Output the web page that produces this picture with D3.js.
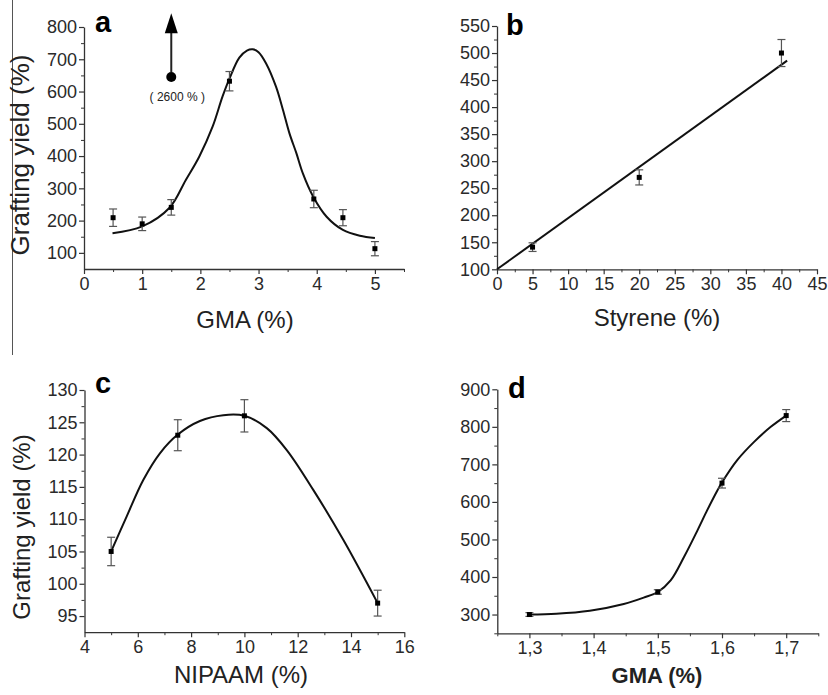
<!DOCTYPE html>
<html><head><meta charset="utf-8">
<script src="https://cdn.jsdelivr.net/npm/d3@7"></script>
<style>
body{margin:0;background:#fff}
text{font-family:Arial,"Liberation Sans",sans-serif}
</style>
</head><body><svg id="chart" width="828" height="695"></svg>
<script>
// ---------- Panel a : GMA (%) ----------
const aX   = [0.5, 1.0, 1.5, 2.5, 3.95, 4.45, 5.0];
const aY   = [209, 190, 241, 632, 267, 209, 113];
const aErr = [27, 21, 24, 30, 27, 25, 22];
const aFitX = [0.49, 1.0, 1.47, 1.75, 1.98, 2.21, 2.38, 2.5, 2.67, 2.8, 2.9, 3.0, 3.13, 3.3, 3.42, 3.53, 3.65, 3.76, 3.94, 4.17, 4.45, 4.74, 5.0];
const aFitY = [161, 182, 240, 326, 398, 491, 584, 640, 705, 727, 731, 722, 687, 615, 543, 471, 409, 347, 274, 212, 171, 153, 146];
const aOutlierX = [1.5];
const aOutlierY = [645];
const aArrowTopY = [843];
const aOutlierLabel = ["( 2600 % )"];
const aXTicks = [0, 1, 2, 3, 4, 5];
const aYTicks = [100, 200, 300, 400, 500, 600, 700, 800];

// ---------- Panel b : Styrene (%) ----------
const bX   = [5, 20, 40];
const bY   = [141, 270, 500];
const bErr = [8, 14, 25];
const bFitX = [0, 40.8];
const bFitY = [100, 486];
const bXTicks = [0, 5, 10, 15, 20, 25, 30, 35, 40, 45];
const bYTicks = [100, 150, 200, 250, 300, 350, 400, 450, 500, 550];

// ---------- Panel c : NIPAAM (%) ----------
const cX   = [5, 7.5, 10, 15];
const cY   = [105, 123, 126, 97];
const cErr = [2.2, 2.4, 2.5, 2.0];
const cFitX = [5, 5.58, 6.21, 6.83, 7.5, 8.33, 9.21, 10, 10.84, 11.59, 12.59, 13.71, 15];
const cFitY = [105, 110.4, 116.1, 120.2, 123.1, 125.2, 126.1, 126, 124.1, 120.7, 114.5, 106.8, 97];
const cXTicks = [4, 6, 8, 10, 12, 14, 16];
const cYTicks = [95, 100, 105, 110, 115, 120, 125, 130];

// ---------- Panel d : GMA (%) ----------
const dX   = [1.3, 1.5, 1.6, 1.7];
const dY   = [300, 360, 650, 830];
const dErr = [5, 6, 13, 16];
const dFitX = [1.3, 1.342, 1.394, 1.447, 1.478, 1.5, 1.52, 1.541, 1.562, 1.577, 1.593, 1.6, 1.624, 1.65, 1.676, 1.7];
const dFitY = [300, 302, 310, 328, 345, 360, 391, 454, 525, 578, 631, 652, 712, 760, 800, 830];
const dXTicks = [1.3, 1.4, 1.5, 1.6, 1.7];
const dYTicks = [300, 400, 500, 600, 700, 800, 900];

const svg = d3.select("#chart");

// decorative separator line at the left
svg.append("line").attr("x1", 12.5).attr("x2", 12.5).attr("y1", 0).attr("y2", 355)
  .attr("stroke", "#555").attr("stroke-width", 1);

function midpoints(arr) {
  const out = [];
  for (let i = 0; i < arr.length - 1; i++) out.push((arr[i] + arr[i + 1]) / 2);
  return out;
}

function panel(cfg) {
  const g = svg.append("g");
  const x = d3.scaleLinear().domain(cfg.xDomain).range(cfg.xRange);
  const y = d3.scaleLinear().domain(cfg.yDomain).range(cfg.yRange);
  const x0 = cfg.xRange[0], y0 = cfg.yRange[0];

  // minor ticks
  const xMinor = midpoints(cfg.xTicks).concat(cfg.xExtraMinor || []);
  const yMinor = midpoints(cfg.yTicks).concat(cfg.yExtraMinor || []);
  g.append("g").attr("transform", `translate(0,${y0})`)
    .call(d3.axisBottom(x).tickValues(xMinor).tickSize(3).tickSizeOuter(0).tickFormat(""))
    .call(s => s.select(".domain").remove())
    .selectAll("line").attr("stroke", "#333").attr("stroke-width", 1);
  g.append("g").attr("transform", `translate(${x0},0)`)
    .call(d3.axisLeft(y).tickValues(yMinor).tickSize(3).tickSizeOuter(0).tickFormat(""))
    .call(s => s.select(".domain").remove())
    .selectAll("line").attr("stroke", "#333").attr("stroke-width", 1);

  // major axes
  const xa = g.append("g").attr("transform", `translate(0,${y0})`)
    .call(d3.axisBottom(x).tickValues(cfg.xTicks).tickSize(5).tickSizeOuter(0).tickPadding(3)
      .tickFormat(cfg.xFmt || d3.format("d")));
  const ya = g.append("g").attr("transform", `translate(${x0},0)`)
    .call(d3.axisLeft(y).tickValues(cfg.yTicks).tickSize(5).tickSizeOuter(0).tickPadding(2)
      .tickFormat(d3.format("d")));
  [xa, ya].forEach(a => {
    a.select(".domain").attr("stroke", "#333").attr("stroke-width", 1.3);
    a.selectAll(".tick line").attr("stroke", "#333").attr("stroke-width", 1.2);
    a.selectAll(".tick text").attr("fill", "#2a2a2a").style("font-size", "18px")
      .style("font-family", "Arial, 'Liberation Sans', sans-serif");
  });

  // fitted curve
  const line = d3.line().x(d => x(d[0])).y(d => y(d[1])).curve(cfg.curve || d3.curveCatmullRom.alpha(0.5));
  g.append("path").datum(d3.zip(cfg.fitX, cfg.fitY)).attr("d", line)
    .attr("fill", "none").attr("stroke", "#111").attr("stroke-width", 2);

  // error bars
  const pts = cfg.px.map((v, i) => ({ x: v, y: cfg.py[i], e: cfg.pe[i] }));
  const eb = g.append("g").attr("stroke", "#555").attr("stroke-width", 1.2);
  pts.forEach(p => {
    const cx = x(p.x);
    eb.append("line").attr("x1", cx).attr("x2", cx).attr("y1", y(p.y - p.e)).attr("y2", y(p.y + p.e));
    eb.append("line").attr("x1", cx - 4).attr("x2", cx + 4).attr("y1", y(p.y - p.e)).attr("y2", y(p.y - p.e));
    eb.append("line").attr("x1", cx - 4).attr("x2", cx + 4).attr("y1", y(p.y + p.e)).attr("y2", y(p.y + p.e));
  });
  g.selectAll("rect.pt").data(pts).join("rect").attr("class", "pt")
    .attr("x", d => x(d.x) - 2.5).attr("y", d => y(d.y) - 2.5)
    .attr("width", 5).attr("height", 5).attr("fill", "#000");

  // panel letter
  g.append("text").attr("x", cfg.letterPos[0]).attr("y", cfg.letterPos[1])
    .text(cfg.letter).style("font-size", "29px").style("font-weight", "bold").attr("fill", "#000");

  // x label
  g.append("text").attr("x", cfg.xLabelPos[0]).attr("y", cfg.xLabelPos[1])
    .attr("text-anchor", "middle").text(cfg.xLabel)
    .style("font-size", cfg.xLabelSize || "24px").style("font-weight", cfg.xLabelWeight || "normal")
    .attr("fill", "#222");

  // y label
  if (cfg.yLabel) {
    g.append("text").attr("transform", `translate(${cfg.yLabelPos[0]},${cfg.yLabelPos[1]}) rotate(-90)`)
      .attr("text-anchor", "middle").text(cfg.yLabel)
      .style("font-size", cfg.yLabelSize || "24px").attr("fill", "#222");
  }
  return { g, x, y };
}

// Panel a
const pa = panel({
  xDomain: [0, 5.5], xRange: [84, 404], yDomain: [50, 800], yRange: [269, 27],
  xTicks: aXTicks, yTicks: aYTicks, xExtraMinor: [5.5], yExtraMinor: [],
  fitX: aFitX, fitY: aFitY, px: aX, py: aY, pe: aErr,
  letter: "a", letterPos: [95, 32], xLabel: "GMA (%)", xLabelPos: [245, 328],
  yLabel: "Grafting yield (%)", yLabelPos: [29, 155], yLabelSize: "26px"
});
// outlier marker with arrow
{
  const { g, x, y } = pa;
  const ox = x(aOutlierX[0]), oy = y(aOutlierY[0]), top = y(aArrowTopY[0]);
  g.append("line").attr("x1", ox).attr("x2", ox).attr("y1", oy - 5).attr("y2", top + 18)
    .attr("stroke", "#222").attr("stroke-width", 2);
  g.append("path").attr("d", `M${ox},${top} L${ox - 6.5},${top + 20} L${ox + 6.5},${top + 20} Z`).attr("fill", "#000");
  g.append("circle").attr("cx", ox).attr("cy", oy).attr("r", 5).attr("fill", "#000");
  g.append("text").attr("x", ox + 6).attr("y", oy + 24).attr("text-anchor", "middle")
    .text(aOutlierLabel[0]).style("font-size", "12px").attr("fill", "#222");
}

// Panel b
panel({
  xDomain: [0, 45], xRange: [497, 817], yDomain: [100, 550], yRange: [269.3, 26],
  xTicks: bXTicks, yTicks: bYTicks,
  fitX: bFitX, fitY: bFitY, px: bX, py: bY, pe: bErr, curve: d3.curveLinear,
  letter: "b", letterPos: [506, 35], xLabel: "Styrene (%)", xLabelPos: [657, 326]
});

// Panel c
panel({
  xDomain: [4, 16], xRange: [84.5, 404.3], yDomain: [92.5, 130], yRange: [632.2, 390],
  xTicks: cXTicks, yTicks: cYTicks,
  fitX: cFitX, fitY: cFitY, px: cX, py: cY, pe: cErr,
  letter: "c", letterPos: [95, 393], xLabel: "NIPAAM (%)", xLabelPos: [241, 683],
  yLabel: "Grafting yield (%)", yLabelPos: [30, 527], yLabelSize: "24px"
});

// Panel d
panel({
  xDomain: [1.25, 1.75], xRange: [497.3, 818.3], yDomain: [250, 900], yRange: [633.3, 389.3],
  xTicks: dXTicks, yTicks: dYTicks, xExtraMinor: [1.25, 1.75], yExtraMinor: [250],
  xFmt: d => d3.format(".1f")(d).replace(".", ","),
  fitX: dFitX, fitY: dFitY, px: dX, py: dY, pe: dErr,
  letter: "d", letterPos: [508, 398], xLabel: "GMA (%)", xLabelPos: [657, 683],
  xLabelSize: "22px", xLabelWeight: "bold"
});
</script>
</body></html>
